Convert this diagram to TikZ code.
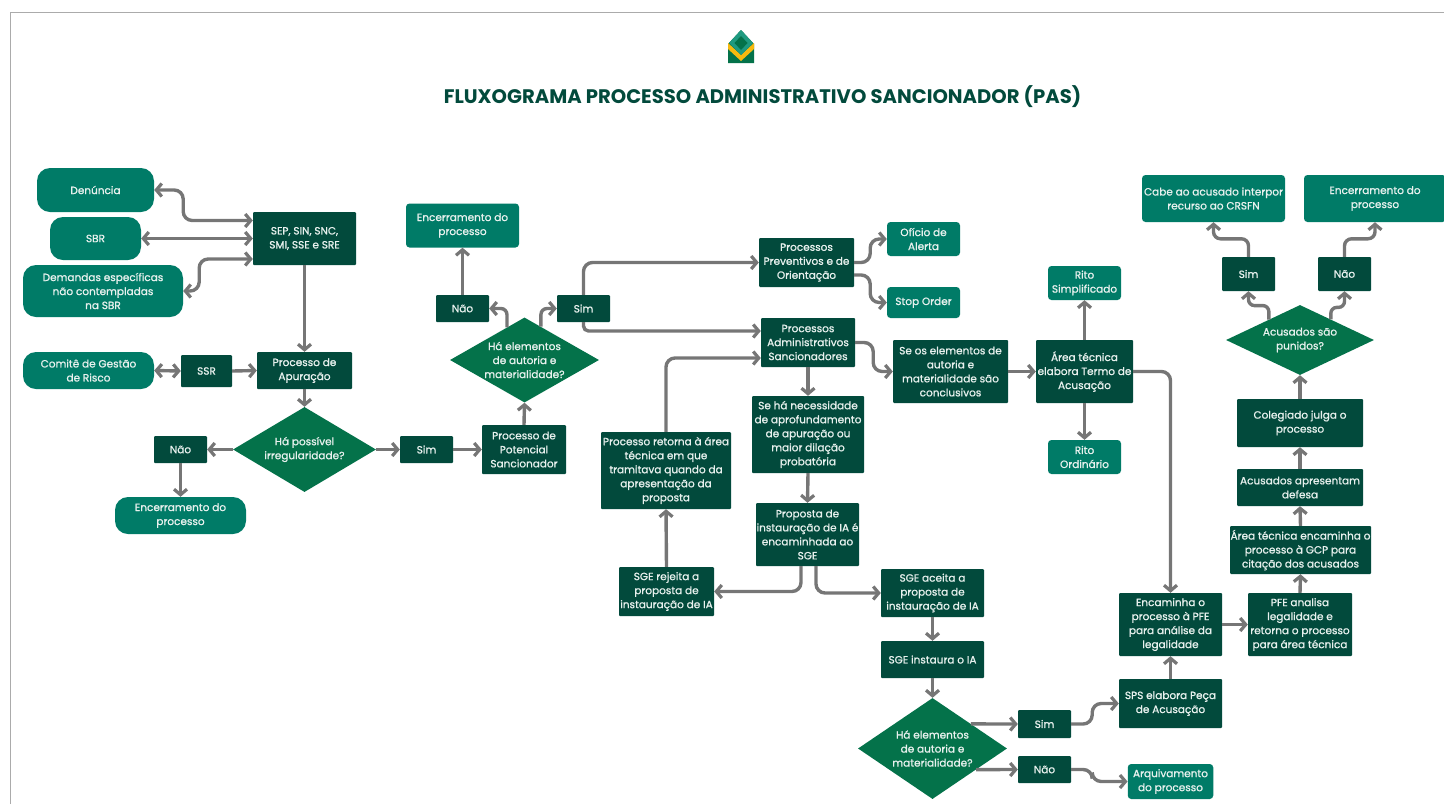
\documentclass[tikz,border=0pt]{standalone}
\usepackage{fontspec}
\setmainfont{Poppins}[RawFeature={embolden=1.0}]
\newfontfamily\titlefont{Poppins}
\usepackage{xcolor}
\usetikzlibrary{calc, shapes.geometric, arrows.meta}

\definecolor{darkbox}{HTML}{024A3C}
\definecolor{tealbox}{HTML}{007B67}
\definecolor{dialeaf}{HTML}{04724A}
\definecolor{flowgray}{HTML}{767676}
\definecolor{framegray}{HTML}{ABABAB}
\definecolor{softwhite}{HTML}{E8F1EE}
\definecolor{logoyellow}{HTML}{F7B90F}
\definecolor{logoteal}{HTML}{1F9A80}

\tikzset{
  base/.style={text=softwhite, align=center, inner sep=0pt, font=\fontsize{10.5}{14}\selectfont},
  dark/.style={base, fill=darkbox, rounded corners=1pt},
  teal/.style={base, fill=tealbox, rounded corners=3.5pt},
  pill/.style={base, fill=tealbox, rounded corners=13pt},
  decision/.style={base, fill=dialeaf, shape=diamond},
  flow/.style={draw=flowgray, line width=3.4pt, -{Straight Barb[length=5.5pt,width=13pt,line width=3.2pt]}, rounded corners=9pt},
  flowtwo/.style={flow, {Straight Barb[length=5.5pt,width=13pt,line width=3.2pt]}-{Straight Barb[length=5.5pt,width=13pt,line width=3.2pt]}},
}

\begin{document}
\begin{tikzpicture}[x=1pt, y=-1pt]
\useasboundingbox (0,0) rectangle (1444,804);

% Frame
\draw[framegray, line width=1pt] (10.5,804) -- (10.5,12) -- (1444,12);

% Logo
\fill[dialeaf] (728,44) -- (741,30) -- (754,44) -- (754,63) -- (728,63) -- cycle;
\fill[logoyellow] (728,43) -- (741,55) -- (754,43) -- (754,49) -- (741,61) -- (728,49) -- cycle;
\fill[logoteal] (741,30) -- (753,43) -- (741,55) -- (729,43) -- cycle;
\fill[dialeaf] (741,36) -- (747.5,43) -- (741,50) -- (734.5,43) -- cycle;

% Title
\node[text=darkbox, font=\titlefont\bfseries\fontsize{19.6}{22}\selectfont, inner sep=0pt] (title) at (762.5,96.5) {FLUXOGRAMA PROCESSO ADMINISTRATIVO SANCIONADOR (PAS)};

% Entry side
\node[pill, minimum width=117pt, minimum height=44pt] (den) at (95.5,190) {Denúncia};
\node[pill, minimum width=91pt, minimum height=43pt] (sbr) at (95.5,238.5) {SBR};
\node[pill, minimum width=160pt, minimum height=52pt] (dem) at (103,291) {Demandas específicas\\não contempladas\\na SBR};
\node[dark, minimum width=103pt, minimum height=53pt] (sep) at (304.5,238.5) {SEP, SIN, SNC,\\SMI, SSE e SRE};
\node[pill, minimum width=131pt, minimum height=37pt] (com) at (88.5,370.5) {Comitê de Gestão\\de Risco};
\node[dark, minimum width=51pt, minimum height=32pt] (ssr) at (206.5,371) {SSR};
\node[dark, minimum width=95pt, minimum height=37pt] (apu) at (304.5,370.5) {Processo de\\Apuração};
\node[decision, aspect=1.68, minimum width=143pt, minimum height=85pt] (dia1) at (304.5,449.5) {Há possível\\irregularidade?};
\node[dark, minimum width=53pt, minimum height=27pt] (nao1) at (180.5,449.5) {Não};
\node[dark, minimum width=53pt, minimum height=27pt] (sim1) at (426.5,449.5) {Sim};
\node[pill, minimum width=131pt, minimum height=37pt] (enc1) at (180.5,515.5) {Encerramento do\\processo};

% Potential sanction
\node[dark, minimum width=84pt, minimum height=49pt] (pot) at (524,449.5) {Processo de\\Potencial\\Sancionador};
\node[decision, aspect=1.75, minimum width=149pt, minimum height=85pt] (dia2) at (524.5,360) {Há elementos\\de autoria e\\materialidade?};
\node[dark, minimum width=53pt, minimum height=27pt] (nao2) at (462.5,308.5) {Não};
\node[dark, minimum width=53pt, minimum height=27pt] (sim2) at (583.5,308.5) {Sim};
\node[teal, minimum width=113pt, minimum height=44pt] (enc2) at (462.5,225.5) {Encerramento do\\processo};

% Middle column
\node[dark, minimum width=95pt, minimum height=49pt] (prev) at (806.5,262.5) {Processos\\Preventivos e de\\Orientação};
\node[teal, minimum width=73pt, minimum height=34pt] (ofi) at (923.5,239) {Ofício de\\Alerta};
\node[teal, minimum width=73pt, minimum height=31pt] (stop) at (923.5,302.5) {Stop Order};
\node[dark, minimum width=94pt, minimum height=49pt] (adm) at (808,342.5) {Processos\\Administrativos\\Sancionadores};
\node[dark, minimum width=112pt, minimum height=77pt] (neces) at (808,434.5) {Se há necessidade\\de aprofundamento\\de apuração ou\\maior dilação\\probatória};
\node[dark, minimum width=130pt, minimum height=77pt] (ret) at (666,470.5) {Processo retorna à área\\técnica em que\\tramitava quando da\\apresentação da\\proposta};
\node[dark, minimum width=103pt, minimum height=63pt] (prop) at (807.5,534.5) {Proposta de\\instauração de IA é\\encaminhada ao\\SGE};
\node[dark, minimum width=95pt, minimum height=49pt] (rej) at (666.5,591.5) {SGE rejeita a\\proposta de\\instauração de IA};
\node[dark, minimum width=103pt, minimum height=48pt] (ace) at (932.5,593) {SGE aceita a\\proposta de\\instauração de IA};
\node[dark, minimum width=103pt, minimum height=37pt] (ins) at (932.5,659.5) {SGE instaura o IA};
\node[decision, aspect=1.47, minimum width=149pt, minimum height=101pt] (dia3) at (932.5,748.5) {Há elementos\\de autoria e\\materialidade?};
\node[dark, minimum width=53pt, minimum height=28pt] (sim3) at (1044.5,724) {Sim};
\node[dark, minimum width=53pt, minimum height=27pt] (nao3) at (1044.5,769.5) {Não};
\node[teal, minimum width=85.5pt, minimum height=35pt] (arq) at (1170.5,781.5) {Arquivamento\\do processo};

% Accusation
\node[dark, minimum width=115pt, minimum height=63pt] (seos) at (950.5,371.5) {Se os elementos de\\autoria e\\materialidade são\\conclusivos};
\node[dark, minimum width=97pt, minimum height=63pt] (are) at (1084.5,371.5) {Área técnica\\elabora Termo de\\Acusação};
\node[teal, minimum width=73pt, minimum height=34pt] (sim) at (1084.5,283) {Rito\\Simplificado};
\node[teal, minimum width=73pt, minimum height=34pt] (ord) at (1084.5,457) {Rito\\Ordinário};
\node[dark, minimum width=103pt, minimum height=49pt] (sps) at (1170.5,703.5) {SPS elabora Peça\\de Acusação};
\node[dark, minimum width=103pt, minimum height=63pt] (enca) at (1170.5,624.5) {Encaminha o\\processo à PFE\\para análise da\\legalidade};
\node[dark, minimum width=104pt, minimum height=63pt] (pfe) at (1300,624.5) {PFE analisa\\legalidade e\\retorna o processo\\para área técnica};
\node[dark, minimum width=141pt, minimum height=48pt] (cit) at (1300.5,550) {Área técnica encaminha o\\processo à GCP para\\citação dos acusados};
\node[dark, minimum width=126pt, minimum height=37pt] (def) at (1300,487.5) {Acusados apresentam\\defesa};
\node[dark, minimum width=126pt, minimum height=48pt] (col) at (1300,423) {Colegiado julga o\\processo};
\node[decision, aspect=2.11, minimum width=148pt, minimum height=70pt] (dia4) at (1300,340) {Acusados são\\punidos?};
\node[dark, minimum width=53pt, minimum height=34pt] (sim4) at (1248.5,274) {Sim};
\node[dark, minimum width=53pt, minimum height=34pt] (nao4) at (1344.5,274) {Não};
\node[teal, minimum width=143pt, minimum height=47pt] (cab) at (1213.5,198.5) {Cabe ao acusado interpor\\recurso ao CRSFN};
\node[teal, minimum width=142pt, minimum height=47pt] (enc4) at (1375,198.5) {Encerramento do\\processo};

% Arrows, entry side
\draw[flowtwo] (den.east) -- ++(29,0) |- ([yshift=18pt]sep.west);
\draw[flowtwo] (sbr.east) -- (sep.west);
\draw[flowtwo] (dem.east) -- ++(16,0) |- ([yshift=-20.5pt]sep.west);
\draw[flow] (sep.south) -- (apu.north);
\draw[flowtwo] (com.east) -- (ssr.west);
\draw[flow] (ssr.east) -- (apu.west);
\draw[flow] (apu.south) -- (dia1.north);
\draw[flow] (dia1.west) -- (nao1.east);
\draw[flow] (nao1.south) -- (enc1.north);
\draw[flow] (dia1.east) -- (sim1.west);
\draw[flow] (sim1.east) -- (pot.west);

% Arrows, potential sanction
\draw[flow] (pot.north) -- (dia2.south);
\draw[flow, rounded corners=6pt] ($(dia2.north)!0.235!(dia2.west)$) |- (nao2.east);
\draw[flow, rounded corners=6pt] ($(dia2.north)!0.22!(dia2.east)$) |- (sim2.west);
\draw[flow] (nao2.north) -- (enc2.south);
\draw[flow] (sim2.north) |- (prev.west);
\draw[flow, rounded corners=5pt] (sim2.south) |- ([yshift=11.5pt]adm.west);

% Arrows, middle column
\draw[flow] (prev.east) -- ++(16,0) |- (ofi.west);
\draw[flow] ([yshift=-12.5pt]prev.east) -- ++(16,0) |- (stop.west);
\draw[flow] (ret.north) |- ([yshift=-15.5pt]adm.west);
\draw[flow] (adm.east) -- ++(18,0) |- (seos.west);
\draw[flow] (adm.south) -- (neces.north);
\draw[flow] (neces.south) -- (prop.north);
\draw[flow] ([xshift=-6.5pt]prop.south) |- (rej.east);
\draw[flow] ([xshift=8.5pt]prop.south) |- (ace.west);
\draw[flow] (rej.north) -- (ret.south);
\draw[flow] (ace.south) -- (ins.north);
\draw[flow] (ins.south) -- (dia3.north);
\draw[flow] ($(dia3.north)!0.515!(dia3.east)$) -- (sim3.west);
\draw[flow] ($(dia3.south)!0.584!(dia3.east)$) -- (nao3.west);
\draw[flow] (sim3.east) -- ++(21,0) |- (sps.west);
\draw[flow] (nao3.east) -- ++(21,0) |- (arq.west);

% Arrows, accusation
\draw[flow] (seos.east) -- (are.west);
\draw[flow] (are.north) -- (sim.south);
\draw[flow] (are.south) -- (ord.north);
\draw[flow] (are.east) -| (enca.north);
\draw[flow] (sps.north) -- (enca.south);
\draw[flow] (enca.east) -- (pfe.west);
\draw[flow] (pfe.north) -- (cit.south);
\draw[flow] (cit.north) -- (def.south);
\draw[flow] (def.north) -- (col.south);
\draw[flow] (col.north) -- (dia4.south);
\draw[flow, rounded corners=6pt] ($(dia4.north)!0.42!(dia4.west)$) -- ++(0,-14) -| (sim4.south);
\draw[flow, rounded corners=6pt] ($(dia4.north)!0.415!(dia4.east)$) -- ++(0,-12) -| (nao4.south);
\draw[flow, rounded corners=7pt] (sim4.north) -- ++(0,-18) -| (cab.south);
\draw[flow, rounded corners=7pt] (nao4.north) -- ++(0,-18) -| (enc4.south);

\end{tikzpicture}
\end{document}
